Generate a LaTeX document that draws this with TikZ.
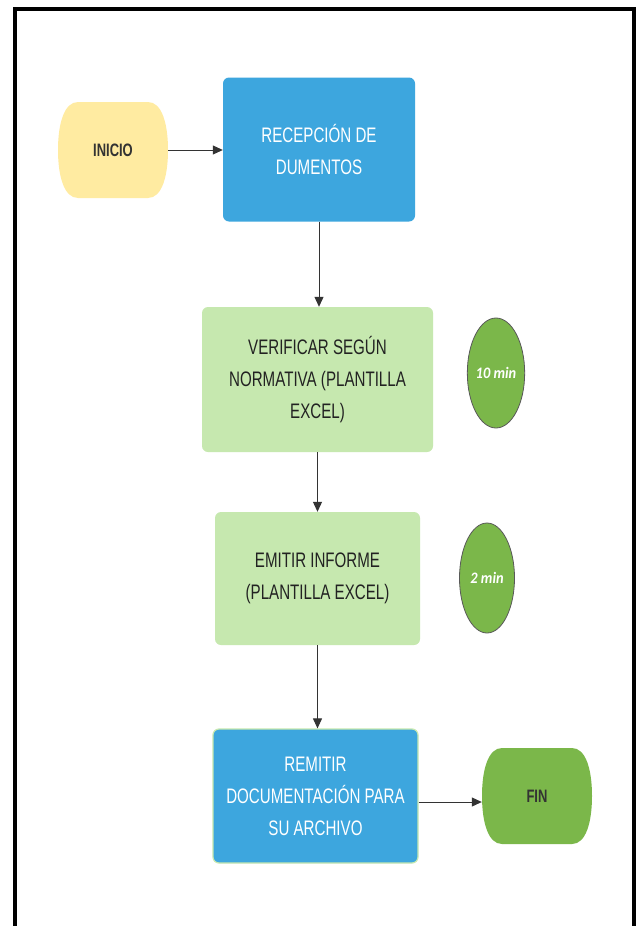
\documentclass[tikz,border=0pt]{standalone}
\usepackage{fontspec}
\setmainfont{Liberation Sans}[FakeStretch=0.72]
\newfontfamily\minfont{Carlito}[FakeStretch=0.9]
\usetikzlibrary{shapes.geometric,arrows.meta}
\definecolor{cBlue}{HTML}{3DA6DE}
\definecolor{cLightGreen}{HTML}{C6E8AF}
\definecolor{cYellow}{HTML}{FFEBA1}
\definecolor{cGreen}{HTML}{7BB74A}
\definecolor{cArrow}{HTML}{333333}
\definecolor{cDark}{HTML}{222222}
\begin{document}
\begin{tikzpicture}[x=1pt,y=-1pt,
  proc/.style={rectangle, rounded corners=6pt, inner sep=0pt, align=center,
    font=\fontsize{21}{32}\selectfont},
  blueproc/.style={proc, fill=cBlue, text=white},
  greenproc/.style={proc, fill=cLightGreen, text=cDark},
  termtext/.style={rectangle, inner sep=0pt, minimum width=110pt, minimum height=96pt,
    text=cArrow, font=\bfseries\fontsize{18}{20}\selectfont},
  dur/.style={ellipse, fill=cGreen, draw=black!65, line width=0.8pt,
    minimum width=55pt, minimum height=110pt, inner sep=0pt, text=white,
    font=\minfont\bfseries\itshape\fontsize{16}{18}\selectfont},
  arr/.style={-{Triangle[length=10pt,width=9pt]}, draw=cArrow, line width=1pt},
  termpic/.pic={
    \fill[pic actions] (-35,-48) -- (35,-48)
      .. controls (49,-48) and (55,-26) .. (55,0)
      .. controls (55,26) and (49,48) .. (35,48) -- (-35,48)
      .. controls (-49,48) and (-55,26) .. (-55,0)
      .. controls (-55,-26) and (-49,-48) .. (-35,-48) -- cycle;
  }
]
\useasboundingbox (0,0) rectangle (643,926);
\fill[white] (0,0) rectangle (643,926);
\draw[line width=4pt] (14.5,935) -- (14.5,8.5) -- (633.5,8.5) -- (633.5,935);

% terminators
\pic[fill=cYellow] at (113,150) {termpic};
\node[termtext] (ini) at (113,150) {INICIO};
\pic[fill=cGreen] at (537,796) {termpic};
\node[termtext] (fin) at (537,796) {FIN};

% process boxes
\node[blueproc, minimum width=192pt, minimum height=144pt] (rec) at (319,149.5)
  {RECEPCIÓN DE\\DUMENTOS};
\node[greenproc, minimum width=231pt, minimum height=145pt] (ver) at (317.5,379.5)
  {VERIFICAR SEGÚN\\NORMATIVA (PLANTILLA\\EXCEL)};
\node[greenproc, minimum width=205pt, minimum height=133pt] (emi) at (317.5,578.5)
  {EMITIR INFORME\\(PLANTILLA EXCEL)};
\node[blueproc, draw=cLightGreen, line width=1.2pt, minimum width=205pt, minimum height=134pt] (rem) at (315.5,796)
  {REMITIR\\DOCUMENTACIÓN PARA\\SU ARCHIVO};

% durations
\node[dur] (t1) at (496,373) {10 min};
\node[dur] (t2) at (487,578) {2 min};

% connectors
\draw[arr] (ini.east) -- (ini.east -| rec.west);
\draw[arr] (rec.south) -- (rec.south |- ver.north);
\draw[arr] (ver.south) -- (ver.south |- emi.north);
\draw[arr] (emi.south) -- (emi.south |- rem.north);
\draw[arr] ([yshift=-6pt]rem.east) -- ([yshift=-6pt]rem.east -| fin.west);
\end{tikzpicture}
\end{document}
